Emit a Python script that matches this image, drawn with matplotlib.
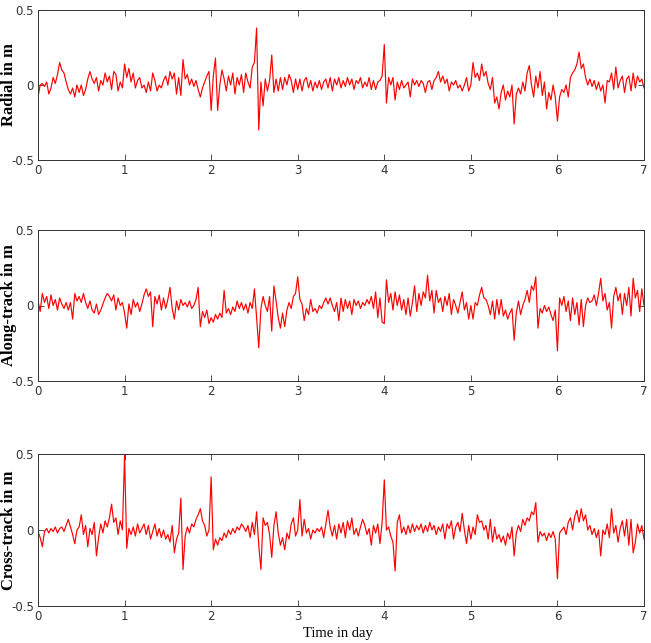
import numpy as np
import matplotlib
matplotlib.use("Agg")
import matplotlib.pyplot as plt

# time axis: one sample every 0.025 day over 7 days
days = np.linspace(0, 7, 281)

# radial residuals (m), 40 values per day + final point
radial = [
    -0.08, 0.00, 0.01, -0.01, 0.02, -0.06, -0.02, 0.05, 0.01, 0.07,
    0.15, 0.10, 0.08, 0.02, -0.03, -0.06, -0.02, -0.08, 0.00, -0.05,
    0.00, -0.07, -0.03, 0.04, 0.09, 0.04, 0.01, 0.05, -0.04, 0.03,
    0.00, 0.08, 0.02, 0.06, -0.03, 0.09, 0.07, -0.04, 0.02, -0.02,
    0.14, 0.05, 0.11, 0.02, 0.08, -0.02, 0.03, 0.05, -0.02, 0.00,
    -0.05, 0.02, -0.04, 0.08, 0.03, -0.04, 0.00, -0.02, 0.03, 0.06,
    0.00, 0.09, 0.04, 0.08, -0.06, 0.05, -0.07, 0.17, 0.04, 0.07,
    0.00, 0.04, -0.01, 0.03, -0.03, -0.08, -0.02, 0.02, 0.06, 0.09,
    -0.17, 0.06, 0.18, -0.17, 0.00, 0.10, 0.04, -0.04, 0.06, 0.00,
    0.08, -0.06, 0.05, 0.00, 0.07, -0.05, 0.08, 0.02, -0.02, 0.12,
    0.15, 0.38, -0.30, 0.02, -0.14, 0.04, -0.04, 0.03, 0.20, -0.05,
    0.04, -0.04, 0.05, -0.03, 0.05, 0.00, 0.07, 0.03, -0.05, 0.04,
    -0.03, 0.04, -0.04, 0.03, 0.05, -0.02, 0.03, -0.04, 0.02, -0.02,
    0.03, -0.03, 0.02, 0.04, -0.02, 0.05, -0.04, 0.04, 0.00, 0.05,
    -0.02, 0.03, -0.01, 0.05, 0.00, 0.04, -0.03, 0.03, 0.01, 0.05,
    -0.02, 0.02, -0.01, 0.05, -0.03, 0.03, -0.03, 0.02, 0.03, 0.06,
    0.27, -0.12, 0.05, 0.00, 0.05, -0.10, 0.02, -0.03, 0.03, -0.02,
    0.00, 0.02, -0.08, 0.04, 0.00, 0.03, -0.01, 0.03, 0.01, -0.05,
    0.02, 0.03, -0.03, 0.03, 0.05, 0.09, 0.02, 0.06, 0.01, 0.04,
    -0.04, 0.02, 0.00, 0.03, -0.02, 0.00, -0.04, 0.00, 0.05, -0.04,
    0.00, 0.15, 0.05, 0.08, 0.03, 0.14, 0.06, 0.09, 0.01, -0.03,
    0.05, -0.12, -0.08, -0.16, -0.05, 0.00, -0.10, -0.04, -0.08, 0.00,
    -0.26, -0.06, -0.02, -0.06, 0.02, -0.04, 0.08, 0.13, 0.00, -0.08,
    0.06, -0.02, 0.09, -0.07, 0.02, -0.16, -0.05, -0.10, 0.00, -0.08,
    -0.24, -0.08, -0.03, -0.05, 0.00, -0.08, 0.05, 0.08, 0.10, 0.14,
    0.22, 0.11, 0.14, 0.05, 0.00, 0.04, -0.01, 0.03, -0.03, 0.02,
    -0.04, 0.00, -0.12, 0.03, 0.02, 0.08, -0.03, 0.12, -0.02, 0.03,
    0.06, -0.05, 0.04, 0.06, -0.04, 0.08, -0.02, 0.06, 0.02, 0.04,
    -0.02,
]

along = [
    0.03, -0.04, 0.08, 0.02, 0.06, -0.02, 0.07, 0.00, 0.04, -0.03,
    0.05, 0.01, -0.02, 0.02, -0.03, 0.02, -0.09, 0.08, 0.03, 0.06,
    0.02, 0.08, 0.02, -0.02, 0.03, -0.03, -0.05, 0.01, -0.06, -0.03,
    0.01, 0.05, 0.08, 0.06, 0.03, 0.07, -0.03, 0.05, 0.00, 0.02,
    -0.05, -0.15, 0.01, -0.06, 0.04, -0.01, 0.02, -0.04, 0.01, 0.07,
    0.11, 0.06, 0.09, -0.14, 0.06, 0.01, 0.07, -0.03, 0.05, -0.02,
    0.04, 0.12, -0.02, -0.09, 0.03, -0.03, 0.04, 0.00, 0.02, -0.01,
    0.03, -0.02, 0.00, 0.04, 0.12, -0.14, -0.04, -0.08, -0.03, -0.12,
    -0.08, -0.11, -0.06, -0.09, -0.05, -0.08, 0.10, -0.05, -0.02, -0.06,
    -0.01, -0.04, 0.03, -0.02, 0.02, -0.03, 0.01, -0.05, 0.02, -0.02,
    0.11, -0.08, -0.28, -0.02, 0.06, 0.00, -0.04, 0.06, -0.17, 0.13,
    0.03, -0.08, -0.15, -0.05, -0.14, -0.03, 0.02, -0.02, 0.06, 0.08,
    0.19, 0.04, 0.01, -0.10, -0.02, -0.06, 0.04, -0.04, -0.02, -0.05,
    0.00, -0.02, 0.02, 0.05, 0.01, 0.05, 0.00, -0.04, 0.02, -0.10,
    0.05, -0.04, 0.04, -0.02, 0.03, -0.06, 0.04, 0.00, 0.03, -0.02,
    0.02, 0.00, 0.04, 0.01, 0.06, -0.02, 0.09, -0.08, 0.05, -0.11,
    -0.12, 0.17, 0.02, 0.08, -0.03, 0.09, 0.00, 0.07, -0.03, 0.04,
    -0.06, 0.05, -0.07, 0.02, 0.13, -0.04, 0.08, 0.00, 0.09, 0.05,
    0.20, 0.03, 0.10, -0.05, 0.10, 0.02, 0.05, -0.04, 0.06, 0.00,
    0.08, -0.06, 0.04, 0.00, -0.05, 0.02, 0.09, -0.03, 0.02, -0.09,
    0.00, -0.09, 0.02, 0.00, 0.07, 0.12, 0.05, 0.04, 0.00, -0.06,
    0.03, -0.09, 0.04, -0.06, 0.04, -0.07, -0.03, -0.09, -0.05, -0.02,
    -0.23, -0.05, 0.03, -0.06, 0.00, 0.04, 0.10, 0.02, 0.13, 0.10,
    0.19, -0.15, -0.02, -0.05, 0.00, -0.04, -0.01, -0.06, -0.10, -0.03,
    -0.30, 0.05, 0.00, 0.06, -0.04, 0.03, -0.10, 0.05, -0.06, 0.02,
    -0.13, 0.04, -0.14, 0.00, 0.05, 0.02, 0.03, 0.07, 0.00, 0.08,
    0.18, 0.03, 0.08, -0.03, 0.02, -0.15, 0.06, 0.12, 0.03, 0.08,
    -0.06, 0.08, 0.00, 0.12, -0.07, 0.18, 0.05, 0.10, -0.04, 0.11,
    0.00,
]

cross = [
    -0.01, -0.05, -0.11, -0.01, 0.01, -0.02, 0.01, -0.01, 0.02, -0.02,
    0.01, 0.02, -0.01, 0.03, 0.07, 0.02, -0.03, -0.09, 0.00, 0.02,
    0.10, -0.03, 0.03, -0.11, 0.01, -0.03, 0.05, -0.17, -0.05, 0.04,
    -0.02, 0.06, 0.02, 0.08, 0.17, 0.05, 0.08, -0.03, 0.06, 0.00,
    0.49, -0.12, 0.01, -0.03, 0.02, -0.04, 0.04, -0.02, 0.01, 0.04,
    -0.03, 0.03, -0.06, -0.01, 0.04, -0.04, 0.01, -0.05, 0.00, -0.06,
    -0.03, -0.08, 0.03, -0.15, -0.06, -0.02, 0.21, -0.26, -0.04, 0.02,
    -0.02, 0.04, 0.02, 0.07, 0.10, 0.14, 0.06, 0.03, -0.04, 0.00,
    0.35, -0.13, -0.06, -0.10, -0.05, -0.07, -0.02, -0.05, 0.00, -0.03,
    0.01, -0.02, 0.02, 0.00, 0.04, 0.02, -0.01, 0.03, -0.05, 0.05,
    -0.03, 0.12, -0.10, -0.26, 0.08, 0.03, 0.05, -0.03, -0.18, 0.03,
    0.12, -0.02, -0.10, -0.05, -0.13, -0.02, -0.06, 0.04, 0.08, -0.04,
    0.00, 0.20, -0.04, 0.07, -0.02, 0.01, -0.06, 0.00, -0.02, 0.01,
    -0.01, 0.02, -0.05, 0.04, 0.13, 0.02, -0.04, 0.03, -0.06, 0.04,
    -0.02, 0.05, -0.05, 0.06, 0.00, 0.08, -0.03, 0.01, -0.04, 0.02,
    0.07, 0.03, -0.03, 0.01, -0.10, 0.03, -0.02, 0.04, -0.09, 0.05,
    0.33, 0.00, 0.02, -0.04, -0.08, -0.27, 0.05, 0.10, -0.02, 0.02,
    -0.03, 0.03, -0.02, 0.04, -0.01, 0.03, 0.00, 0.04, -0.02, 0.03,
    -0.01, 0.05, 0.00, 0.03, -0.03, 0.02, -0.01, 0.04, -0.06, 0.04,
    0.01, 0.06, -0.06, 0.02, 0.05, -0.01, 0.11, 0.00, -0.09, 0.03,
    -0.06, 0.02, -0.03, 0.10, 0.05, 0.06, 0.00, 0.03, -0.06, 0.07,
    -0.08, 0.02, -0.06, -0.03, -0.08, -0.04, -0.10, -0.02, -0.06, 0.02,
    -0.17, -0.02, 0.03, -0.01, 0.07, 0.03, 0.08, 0.06, 0.12, 0.10,
    0.18, -0.08, -0.01, -0.04, -0.02, -0.07, -0.02, -0.05, -0.01, -0.06,
    -0.32, -0.02, 0.00, 0.02, -0.03, 0.05, 0.08, 0.00, 0.09, 0.13,
    0.05, 0.14, 0.06, 0.10, 0.00, 0.03, -0.03, 0.01, -0.05, 0.00,
    -0.17, 0.00, -0.03, 0.04, -0.05, 0.14, -0.02, 0.03, -0.08, 0.01,
    0.06, -0.04, 0.07, -0.10, 0.07, -0.15, -0.08, 0.04, -0.02, 0.03,
    -0.06,
]

ylabels = ["Radial in m", "Along-track in m", "Cross-track in m"]
series = [radial, along, cross]

W, H = 651, 643
fig = plt.figure(figsize=(W / 100, H / 100), dpi=100)

# axes boxes in pixels: (top, bottom)
boxes = [(10, 160), (230, 381), (454, 606)]
left, right = 38, 644

tick_family = ["Liberation Sans Narrow", "DejaVu Sans"]

for (top, bot), vals, lab in zip(boxes, series, ylabels):
    ax = fig.add_axes([left / W, 1 - bot / H, (right - left) / W, (bot - top) / H])
    ax.plot(days, vals, color="red", lw=0.85)
    ax.set_xlim(0, 7)
    ax.set_ylim(-0.5, 0.5)
    ax.set_xticks(range(8))
    ax.set_yticks([-0.5, 0, 0.5])
    ax.set_yticklabels(["-0.5", "0", "0.5"])
    ax.tick_params(direction="in", top=True, right=True, length=4, width=0.6,
                   color="#333333", pad=3)
    for t in ax.get_xticklabels() + ax.get_yticklabels():
        t.set_fontfamily(tick_family)
        t.set_fontsize(8.5)
        t.set_color("#333333")
    for s in ax.spines.values():
        s.set_linewidth(0.7)
        s.set_color("#333333")
    fig.text(9 / W, 1 - (top + bot) / 2 / H, lab, rotation=90, ha="center",
             va="center", family="Liberation Serif", weight="bold", fontsize=12)

fig.text(338 / W, 1 - 634 / H, "Time in day", ha="center", va="center",
         family="Liberation Serif", fontsize=10.5)

fig.savefig("out.png", dpi=100)
